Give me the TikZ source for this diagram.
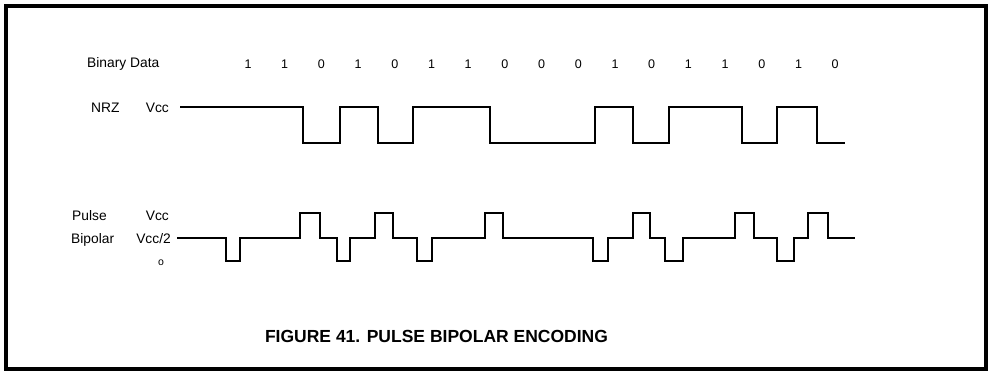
\documentclass[tikz,border=0pt]{standalone}
\usepackage{fontspec}
\setmainfont{Liberation Sans}
\tikzset{
  wave/.style={line width=1.9pt, line join=miter},
  lbl/.style={inner sep=0pt, font=\fontsize{13.8}{16}\selectfont},
  bit/.style={inner sep=0pt, anchor=base, font=\fontsize{12.5}{14}\selectfont},
  ttl/.style={inner sep=0pt, anchor=base, font=\fontsize{17.5}{20}\selectfont\bfseries},
}

\begin{document}
\begin{tikzpicture}[x=1pt, y=-1pt]
  \useasboundingbox (0,0) rectangle (991,372);
  % outer frame
  \draw[line width=4.6pt] (6,6) rectangle (986,369);
  % row labels
  \node[lbl, anchor=base west] (bdata) at (87,67.5) {Binary Data};
  \node[lbl, anchor=base west] (nrz) at (91,112) {NRZ};
  \node[lbl, anchor=base east] (nrzvcc) at (169,112) {Vcc};
  \node[lbl, anchor=base west] (pulse) at (72,220) {Pulse};
  \node[lbl, anchor=base east] (pbvcc) at (169,220) {Vcc};
  \node[lbl, anchor=base west] (bipolar) at (71,243) {Bipolar};
  \node[lbl, anchor=base east] (pbhalf) at (171,243) {Vcc/2};
  \node[inner sep=0pt, font=\fontsize{10.5}{12}\selectfont] (pbzero) at (161,263) {o};
  % data bits, one per cell
  \foreach \b [count=\k from 0] in {1,1,0,1,0,1,1,0,0,0,1,0,1,1,0,1,0}{
    \node[bit] (bit\k) at (248+36.7*\k,68.5) {\b};}
  % NRZ waveform (high = Vcc, low = 0)
  \draw[wave] (180,107) \foreach \x/\y in {303/143, 340/107, 378/143, 413/107, 490/143,
      595/107, 633/143, 669/107, 742/143, 777/107, 817/143}{ -| (\x,\y) } -- (845,143);
  % pulse bipolar waveform: one pulse per NRZ edge, resting at Vcc/2
  \draw[wave] (177,238) \foreach \a/\b/\l in {226/240/261, 300/320/213, 337/350/261,
      375/393/213, 417/432/261, 485/503/213, 593/608/261, 633/650/213, 665/683/261,
      735/754/213, 777/794/261, 808/828/213}{ -| (\a,\l) -| (\b,238) } -- (855,238);
  % caption
  \node[ttl] (caption) at (436.5,342) {FIGURE 41. PULSE BIPOLAR ENCODING};
\end{tikzpicture}
\end{document}
